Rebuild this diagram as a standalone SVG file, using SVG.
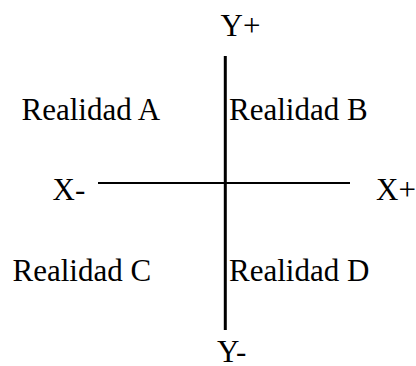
<svg xmlns="http://www.w3.org/2000/svg" width="416" height="366" viewBox="0 0 416 366">
<style>
.lbl{font-family:'Liberation Serif','Times New Roman',Times,serif;font-size:31px;fill:#000}
.ax{stroke:#000;fill:none}
</style>
<rect width="416" height="366" fill="#fff"/>
<g id="connectors">
<line class="ax" x1="225.3" y1="56" x2="225.3" y2="330" stroke-width="3"/>
<line class="ax" x1="98" y1="183" x2="350" y2="183" stroke-width="2"/>
</g>
<g id="yplus"><text class="lbl" x="220.5" y="36">Y+</text></g>
<g id="yminus"><text class="lbl" x="217" y="362">Y-</text></g>
<g id="xminus"><text class="lbl" x="52.5" y="200">X-</text></g>
<g id="xplus"><text class="lbl" x="376" y="200">X+</text></g>
<g id="realidadA"><text class="lbl" x="21.5" y="119.5">Realidad A</text></g>
<g id="realidadB"><text class="lbl" x="229" y="119.5">Realidad B</text></g>
<g id="realidadC"><text class="lbl" x="12.5" y="281">Realidad C</text></g>
<g id="realidadD"><text class="lbl" x="229" y="281">Realidad D</text></g>
</svg>
